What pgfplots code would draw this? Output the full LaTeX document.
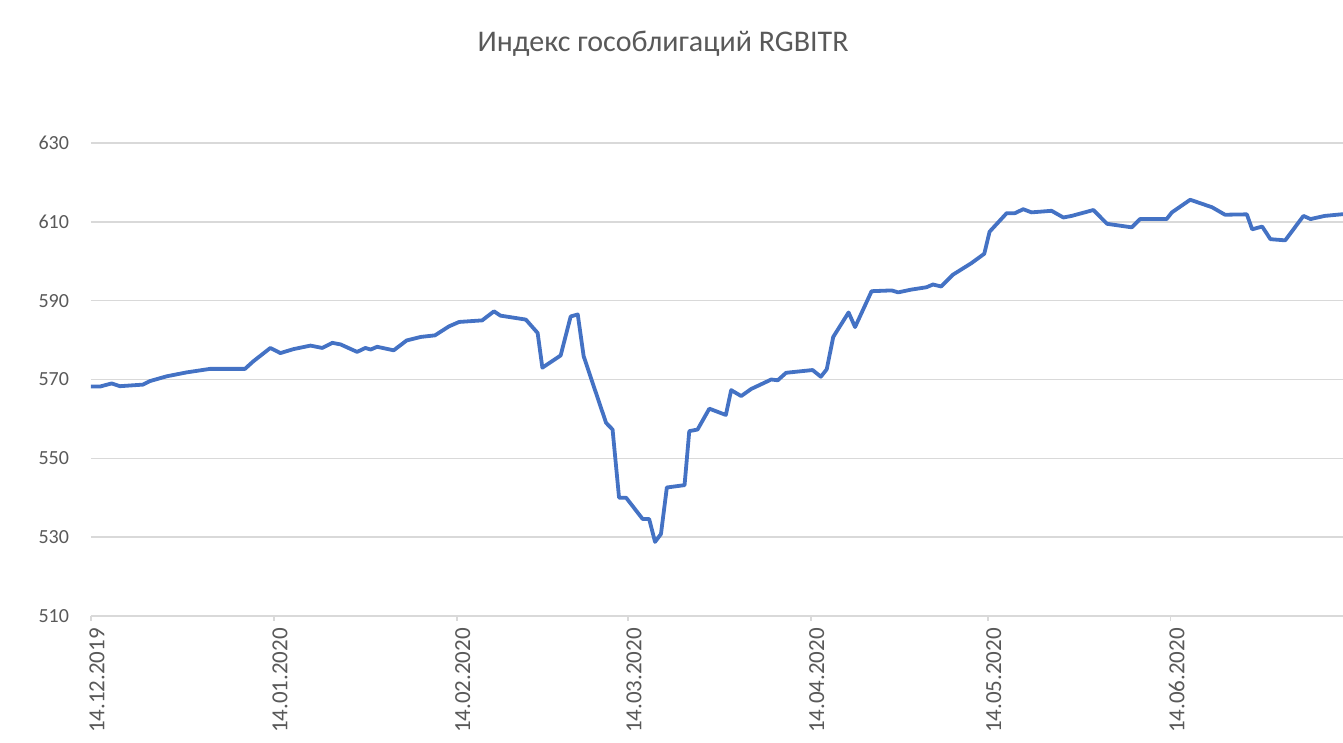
\documentclass[border=0pt]{standalone}
\usepackage{fontspec}
\setmainfont{Carlito}
\usepackage{pgfplots}
\pgfplotsset{compat=1.18}

\definecolor{linblue}{HTML}{4472C4}
\definecolor{txtgray}{HTML}{595959}
\definecolor{gridgray}{HTML}{D9D9D9}

\begin{document}
\begin{tikzpicture}
\begin{axis}[
    name=ax,
    scale only axis,
    width=626pt, height=236.5pt,
    xmin=0, xmax=212.2,
    ymin=510, ymax=630,
    ytick={510,530,...,630},
    xtick={0,31,62,91,122,152,183},
    xticklabels={14.12.2019,14.01.2020,14.02.2020,14.03.2020,14.04.2020,14.05.2020,14.06.2020},
    axis lines*=left,
    y axis line style={draw=none},
    x axis line style={draw=gridgray, line width=0.75pt},
    ytick style={draw=none},
    xtick style={draw=gridgray, line width=0.75pt},
    tick align=outside,
    major tick length=2.5pt,
    ymajorgrids,
    major grid style={draw=gridgray, line width=0.75pt},
    /pgf/number format/assume math mode=true,
    yticklabel style={font=\fontsize{10}{12}\selectfont, text=txtgray, xshift=-5pt},
    xticklabel style={font=\fontsize{11.5}{13}\selectfont, text=txtgray, rotate=90, anchor=east, yshift=-3pt},
]
\addplot[linblue, line width=1.9pt, line join=round] coordinates {
(0,568.2) (1.5,568.2) (3.5,569.0) (4.9,568.3) (8.8,568.7) (10,569.6) (12.8,570.8)
(16.2,571.8) (20.2,572.7) (26.1,572.7) (27.5,574.6) (30.4,578.0) (32.1,576.7)
(34.3,577.7) (37.2,578.6) (39.2,578.0) (40.9,579.3) (42.3,578.9) (45.1,577.0)
(46.5,578.0) (47.4,577.6) (48.5,578.3) (51.3,577.4) (53.5,579.9) (55.9,580.8)
(58.3,581.2) (60.7,583.5) (62.4,584.6) (66.3,585.0) (68.3,587.3) (69.4,586.2)
(73.7,585.2) (75.7,581.8) (76.5,573.0) (79.6,576.1) (81.3,586.0) (82.5,586.5)
(83.5,575.9) (85.0,569.2) (87.3,559.0) (88.4,557.3) (89.5,540.0) (90.7,540.0)
(93.5,534.6) (94.6,534.6) (95.6,528.8) (96.6,530.8) (97.6,542.6) (100.6,543.2)
(101.4,556.9) (102.8,557.3) (104.8,562.6) (107.6,561.0) (108.5,567.3) (110.2,565.8)
(111.9,567.6) (115.3,570.0) (116.4,569.8) (117.8,571.7) (122.3,572.4) (123.7,570.7)
(124.7,572.6) (125.8,580.8) (128.4,587.0) (129.5,583.3) (132.3,592.4) (135.7,592.6)
(136.8,592.1) (139.0,592.8) (141.6,593.4) (142.7,594.1) (144.1,593.6) (146.1,596.6)
(149.2,599.5) (151.4,601.9) (152.3,607.5) (155.2,612.2) (156.6,612.2) (158.0,613.2)
(159.4,612.4) (162.8,612.8) (164.8,611.1) (166.2,611.5) (169.9,613.0) (172.2,609.5)
(176.4,608.6) (177.8,610.7) (182.3,610.7) (183.2,612.4) (186.3,615.6) (190.0,613.7)
(192.2,611.8) (195.9,611.9) (196.8,608.1) (198.5,608.8) (199.9,605.6) (202.4,605.3)
(205.5,611.5) (206.7,610.7) (209.1,611.5) (214,612.2)
};
\end{axis}
% title
\node[text=txtgray, font=\fontsize{15}{18}\selectfont] at ([xshift=286pt, yshift=49.5pt]ax.north west) {Индекс гособлигаций RGBITR};
% crop like the reference
\pgfresetboundingbox
\path ([shift={(-45.5pt,-63.5pt)}]ax.south west) rectangle ([shift={(0pt,71.5pt)}]ax.north east);
\end{tikzpicture}
\end{document}
